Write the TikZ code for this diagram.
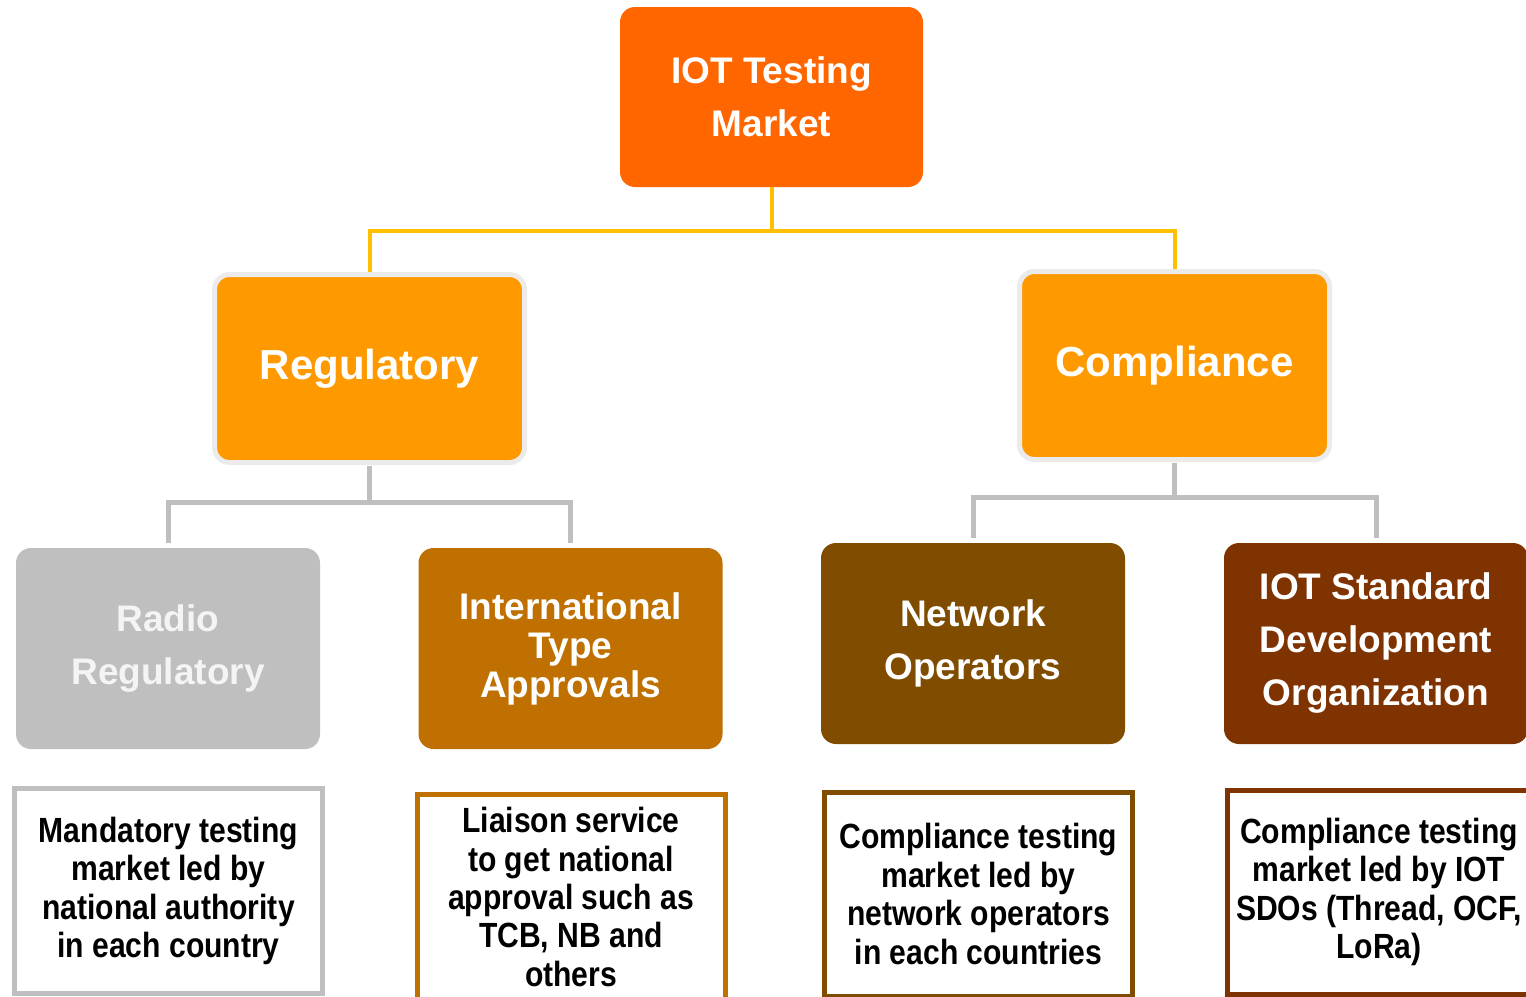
\documentclass[tikz,border=0pt]{standalone}
\usepackage{fontspec}
\setmainfont{Liberation Sans}
\newfontfamily\narrowfont[FakeStretch=0.86]{Liberation Sans}
\definecolor{cTop}{HTML}{FF6600}
\definecolor{cMid}{HTML}{FF9900}
\definecolor{cYel}{HTML}{FFC000}
\definecolor{cGray}{HTML}{BFBFBF}
\definecolor{cHalo}{HTML}{EBEBEB}
\definecolor{cIntl}{HTML}{BF7000}
\definecolor{cNet}{HTML}{7F4C00}
\definecolor{cStd}{HTML}{7F3300}
\definecolor{cRadioTxt}{HTML}{F4F4F4}
\tikzset{
  box/.style={rectangle, rounded corners=7.5pt, inner sep=0pt, outer sep=0pt, align=center, text=white, font=\bfseries\fontsize{18.5}{26.5}\selectfont},
  midbox/.style={box, fill=cMid, draw=cHalo, line width=2.5pt, minimum width=155pt, minimum height=94pt, font=\bfseries\fontsize{21}{26}\selectfont},
  leafbox/.style={box, minimum width=152pt, minimum height=100.5pt},
  descbox/.style={rectangle, fill=white, line width=2.5pt, inner sep=0pt, outer sep=0pt, align=center, text=black, minimum width=154pt, font=\narrowfont\bfseries\fontsize{17.5}{19.2}\selectfont},
  yline/.style={draw=cYel, line width=2pt},
  gline/.style={draw=cGray, line width=2.5pt},
}
\begin{document}
\begin{tikzpicture}[x=0.5pt, y=-0.5pt]
\clip (0,0) rectangle (1526,996);
\fill[white] (0,0) rectangle (1526,996);
% top
\node[box, fill=cTop, minimum width=151.5pt, minimum height=90pt] (top) at (771.5,97) {IOT Testing\\Market};
% level 2
\node[midbox] (reg) at (369.5,368.5) {Regulatory};
\node[midbox] (comp) at (1174.5,365.5) {Compliance};
% level 3
\node[leafbox, fill=cGray, text=cRadioTxt] (radio) at (168,648.5) {Radio\\Regulatory};
\node[leafbox, fill=cIntl, font=\bfseries\fontsize{18.5}{19.5}\selectfont] (intl) at (570.5,648.5) {International\\Type\\Approvals};
\node[leafbox, fill=cNet] (net) at (973,643.5) {Network\\Operators};
\node[leafbox, fill=cStd] (std) at (1376,643.5) {IOT Standard\\Development\\Organization};
% level 4
\node[descbox, draw=cGray, minimum height=102.5pt] (d1) at (168.5,891) {Mandatory testing\\market led by\\national authority\\in each country};
\node[descbox, draw=cIntl, minimum height=103pt] (d2) at (571,897) {Liaison service\\to get national\\approval such as\\TCB, NB and\\others};
\node[descbox, draw=cNet, minimum height=102pt] (d3) at (978.5,894) {Compliance testing\\market led by\\network operators\\in each countries};
\node[descbox, draw=cStd, minimum width=151.5pt, minimum height=102pt] (d4) at (1379,892) {Compliance testing\\market led by IOT\\SDOs (Thread, OCF,\\LoRa)};
% connectors
\coordinate (j1) at (771.5,231);
\coordinate (j2) at (369.5,502);
\coordinate (j3) at (1174.5,497);
\draw[yline] (top.south) -- (j1);
\draw[yline, shorten >=1.5pt] (j1) -| (reg.north);
\draw[yline, shorten >=1.5pt] (j1) -| (comp.north);
\draw[gline, shorten <=1.5pt] (reg.south) -- (j2);
\draw[gline, shorten >=2.5pt] (j2) -| (radio.north);
\draw[gline, shorten >=2.5pt] (j2) -| (intl.north);
\draw[gline, shorten <=1.5pt] (comp.south) -- (j3);
\draw[gline, shorten >=2.5pt] (j3) -| (net.north);
\draw[gline, shorten >=2.5pt] (j3) -| (std.north);
\end{tikzpicture}
\end{document}
